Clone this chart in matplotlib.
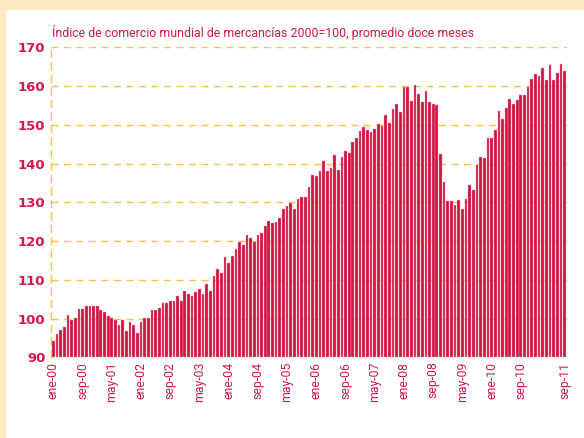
import matplotlib
matplotlib.use("Agg")
import matplotlib.pyplot as plt
from matplotlib.patches import Rectangle
from matplotlib import font_manager

# ---- data ----
month_abbr = ["ene", "feb", "mar", "abr", "may", "jun", "jul", "ago", "sep", "oct", "nov", "dic"]
years = list(range(2000, 2012))
months = [f"{m}-{str(y)[2:]}" for y in years for m in month_abbr][:141]  # ene-00 .. sep-11

values = [
    94.3, 96.1, 97.2, 97.8, 100.9, 99.7, 100.1, 102.6, 102.6, 103.2, 103.4, 103.2,
    103.4, 102.2, 101.7, 100.7, 100.3, 99.7, 98.4, 99.6, 96.8, 99.1, 98.3, 96.2,
    99.2, 100.2, 100.2, 102.3, 102.3, 102.8, 104.1, 104.1, 104.7, 104.7, 105.9, 104.5,
    107.1, 106.5, 105.9, 107.0, 107.6, 106.5, 108.9, 107.2, 111.0, 112.9, 111.9, 116.0,
    114.5, 116.2, 117.9, 119.9, 118.9, 121.6, 120.9, 119.8, 121.6, 122.2, 124.0, 125.3,
    124.7, 124.9, 126.0, 128.3, 129.1, 129.8, 128.4, 131.0, 131.5, 131.5, 134.0, 137.1,
    136.7, 138.2, 140.6, 138.1, 138.9, 142.1, 138.3, 141.8, 143.3, 142.8, 145.7, 146.7,
    148.4, 149.5, 148.7, 148.1, 149.0, 150.1, 149.8, 152.5, 150.6, 154.1, 155.3, 153.4,
    159.7, 159.7, 156.1, 160.3, 157.9, 155.9, 158.8, 155.9, 155.3, 155.1, 142.4, 135.3,
    130.4, 130.3, 129.3, 130.5, 128.2, 130.8, 134.6, 133.3, 139.7, 141.6, 141.5, 146.6,
    146.5, 148.8, 153.7, 151.5, 154.3, 156.7, 155.5, 156.3, 157.6, 157.6, 159.8, 161.7,
    163.2, 162.7, 164.6, 161.6, 165.4, 161.6, 163.4, 165.7, 164.0,
]

tick_labels = ["ene-00", "sep-00", "may-01", "ene-02", "sep-02", "may-03", "ene-04",
               "sep-04", "may-05", "ene-06", "sep-06", "may-07", "ene-08", "sep-08",
               "may-09", "ene-10", "sep-10", "sep-11"]
y_ticks = [90, 100, 110, 120, 130, 140, 150, 160, 170]
title = "Índice de comercio mundial de mercancías 2000=100, promedio doce meses"

# ---- style ----
installed = {f.name for f in font_manager.fontManager.ttflist}
narrow = "Liberation Sans Narrow" if "Liberation Sans Narrow" in installed else "Roboto"

RED = "#D0103E"
TXT = "#D41848"
GRID = "#FFBE45"
BG = "#FEE8BF"

fig = plt.figure(figsize=(5.84, 4.38), dpi=100, facecolor=BG)
fig.patches.append(Rectangle((6 / 584, 0), 1, (438 - 10) / 438,
                             transform=fig.transFigure, facecolor="white",
                             edgecolor="none", zorder=-10))

ax = fig.add_axes([51 / 584, 1 - 357.5 / 438, (567 - 51) / 584, (357.5 - 47.3) / 438])
ax.set_zorder(5)
ax.set_facecolor("white")

x = list(range(len(values)))
ax.bar(x, [v - 90 for v in values], bottom=90, width=0.74, color=RED,
       edgecolor="#F2A6B8", linewidth=0.3, zorder=3)

ax.set_xlim(-0.65, len(values) - 1 + 0.65)
ax.set_ylim(y_ticks[0], y_ticks[-1])

for yv in y_ticks[1:]:
    ax.axhline(yv, color=GRID, linestyle=(0, (5, 4)), linewidth=1.0, zorder=1,
               clip_on=True)

for s in ["top", "right", "bottom"]:
    ax.spines[s].set_visible(False)
ax.spines["left"].set_color(GRID)
ax.spines["left"].set_linestyle((0, (5, 4)))
ax.spines["left"].set_linewidth(1.0)

ax.set_yticks(y_ticks)
ax.set_yticklabels([str(t) for t in y_ticks], color=TXT, fontweight="bold",
                   fontsize=9.5, family=["DejaVu Sans"])
ax.tick_params(axis="y", length=0, pad=4)

pos = [months.index(t) for t in tick_labels]
ax.set_xticks(pos)
ax.set_xticklabels(tick_labels, rotation=90, color=TXT, fontsize=8.8,
                   family=[narrow, "DejaVu Sans"])
ax.tick_params(axis="x", length=0, pad=3)

fig.text(52 / 584, 1 - 32 / 438, title, color=TXT, fontsize=8.95,
         family=[narrow, "DejaVu Sans"], ha="left", va="center")

fig.savefig("out.png", dpi=100, facecolor=BG)
